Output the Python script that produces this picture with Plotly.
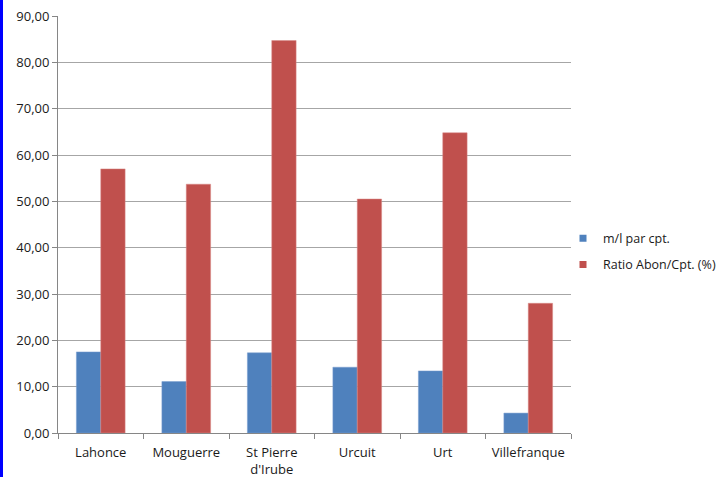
import plotly.graph_objects as go

categories = ["Lahonce", "Mouguerre", "St Pierre<br>d'Irube", "Urcuit", "Urt", "Villefranque"]
ml_par_cpt = [17.5, 11.1, 17.3, 14.2, 13.4, 4.3]
ratio_abon = [57.0, 53.7, 84.7, 50.5, 64.8, 28.0]
series_names = ["m/l par cpt.", "Ratio Abon/Cpt. (%)"]
series_colors = ["#4F81BD", "#C0504D"]
y_ticks = [0, 10, 20, 30, 40, 50, 60, 70, 80, 90]

W, H = 722, 477
ml, mr, mt, mb = 58, 151, 16, 44
pw = W - ml - mr
ph = H - mt - mb

fig = go.Figure()
fig.add_trace(go.Bar(x=categories, y=ml_par_cpt, name=series_names[0], showlegend=False,
                     marker=dict(color=series_colors[0], line=dict(color="#7a9fd0", width=0.5))))
fig.add_trace(go.Bar(x=categories, y=ratio_abon, name=series_names[1], showlegend=False,
                     marker=dict(color=series_colors[1], line=dict(color="#d98a88", width=0.5))))
# legend-only entries with small square swatches
for i, (nm, col) in enumerate(zip(series_names, series_colors)):
    fig.add_trace(go.Scatter(x=[None], y=[None], mode="markers", name=nm,
                             legendgroup=f"g{i}",
                             marker=dict(symbol="square", size=7, color=col)))

font_family = "Open Sans, sans-serif"
fig.update_layout(
    width=W, height=H,
    margin=dict(l=ml, r=mr, t=mt, b=mb, autoexpand=False),
    paper_bgcolor="white", plot_bgcolor="white",
    separators=",.",
    barmode="group", bargap=0.43, bargroupgap=0,
    font=dict(family=font_family, size=13, color="#1a1a1a"),
    showlegend=True,
    legend=dict(x=-8 / pw + 1, y=0.435, xanchor="left", yanchor="middle",
                font=dict(size=12.5, color="#1a1a1a"), tracegroupgap=7,
                itemwidth=30, bgcolor="rgba(0,0,0,0)"),
    xaxis=dict(showline=True, linecolor="#868686", linewidth=1,
               ticks="outside", tickson="boundaries", ticklen=5, tickcolor="#868686",
               ticklabelstandoff=7,
               tickfont=dict(size=13, color="#1a1a1a"), showgrid=False),
    yaxis=dict(range=[0, 90], tickvals=y_ticks, tickformat=".2f",
               showline=True, linecolor="#868686", linewidth=1,
               ticks="outside", ticklen=5, tickcolor="#868686",
               showgrid=True, gridcolor="#a6a6a6", gridwidth=1,
               zeroline=False, tickfont=dict(size=13, color="#1a1a1a")),
    shapes=[dict(type="rect", xref="paper", yref="paper",
                 x0=-ml / pw, x1=(-ml + 3) / pw, y0=-(mb + 5) / ph, y1=1 + (mt + 5) / ph,
                 fillcolor="#0000ff", line=dict(width=0), layer="above")],
)

fig.write_html("out.html")
